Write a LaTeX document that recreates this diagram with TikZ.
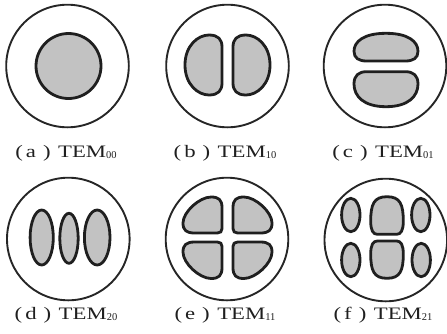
\documentclass[tikz,border=0pt]{standalone}
\usepackage{fontspec}
\setmainfont{Liberation Serif}
\newfontfamily\lblfont[FakeStretch=1.3]{Liberation Serif}
\newfontfamily\subfont{Liberation Serif}

% Half-moon lobe in unit coordinates: flat side at x=1, round side at x=0;
% the argument sets how square the round side is
\newcommand{\dlobe}[1]{(0.65,-1) .. controls (0.9,-1) and (1,-0.85) .. (1,-0.6)
  -- (1,0.6) .. controls (1,0.85) and (0.9,1) .. (0.65,1)
  .. controls (#1,1) and (0,1-#1) .. (0,0)
  .. controls (0,-1+#1) and (#1,-1) .. (0.65,-1) -- cycle}
% Quadrant lobe: inner corner at the origin, outward along +x and +y
\newcommand{\qlobe}{(0.12,0) -- (0.7,0) .. controls (0.92,0) and (1,0.08) .. (1,0.28)
  .. controls (1,0.58) and (0.58,1) .. (0.28,1)
  .. controls (0.08,1) and (0,0.92) .. (0,0.7)
  -- (0,0.12) .. controls (0,0.04) and (0.04,0) .. (0.12,0) -- cycle}
\newcommand{\temlabel}[2]{(\kern3pt#1\kern7pt)\kern7.5pt TEM%
  {\subfont\fontsize{10.5}{12}\selectfont\raisebox{-1pt}{#2}}}

\begin{document}
\begin{tikzpicture}[
  x=1pt,
  y=-1pt,
  line cap=round,
  line join=round,
  ring/.style={draw=black!85,line width=1.9pt},
  lobe/.style={draw=black!88,fill=black!24,line width=2.8pt},
  caption/.style={font=\lblfont\fontsize{17.5}{20}\selectfont,
    text=black!88,anchor=base,inner sep=0pt}
]
  \useasboundingbox (0,0) rectangle (447,333);

  % Centres of the six mirror apertures
  \coordinate (ca) at (67.5,66);
  \coordinate (cb) at (227.5,66);
  \coordinate (cc) at (385,66);
  \coordinate (cd) at (68.3,239);
  \coordinate (ce) at (227,239);
  \coordinate (cf) at (385.8,240);

  % Aperture rims
  \foreach \c in {ca,cb,cc,cd,ce,cf} {
    \draw[ring] (\c) circle[radius=61.3pt];
  }

  % (a) fundamental spot
  \draw[lobe] (68.5,66) circle[radius=32.5pt];

  % (b) two lobes side by side
  \draw[lobe,shift={(185,65)},xscale=37,yscale=30] \dlobe{0.35};
  \draw[lobe,shift={(270,65)},xscale=-37,yscale=30] \dlobe{0.35};

  % (c) two lobes one above the other
  \draw[lobe,shift={(386,33.3)},rotate=-90,xscale=27.7,yscale=32] \dlobe{0.3};
  \draw[lobe,shift={(386,106.7)},rotate=90,xscale=35,yscale=32] \dlobe{0.3};

  % (d) three vertical ellipses
  \draw[lobe] (41.7,237.5) ellipse[x radius=11.6pt,y radius=27.5pt];
  \draw[lobe] (69,238.3) ellipse[x radius=9.2pt,y radius=25pt];
  \draw[lobe] (97.2,237.5) ellipse[x radius=12.8pt,y radius=27.5pt];

  % (e) four quadrant lobes, given by inner corner and outward size
  \foreach \ix/\iy/\sx/\sy in {222/233/-39/-36, 233/233/39/-36,
                               222/242/-39/36.5, 233/242/39/36.5} {
    \draw[lobe,shift={(\ix,\iy)},xscale=\sx,yscale=\sy] \qlobe;
  }

  % (f) side ellipses and two central lobes
  \foreach \ex/\ey in {350.8/215, 420.8/215, 350.8/260, 421.2/260} {
    \draw[lobe] (\ex,\ey) ellipse[x radius=9.2pt,y radius=16.7pt];
  }
  \draw[lobe,shift={(387,196.7)},rotate=-90,xscale=37.6,yscale=16.3] \dlobe{0.2};
  \draw[lobe,shift={(387,278.3)},rotate=90,xscale=37.3,yscale=16.3] \dlobe{0.2};

  % Captions
  \node[caption] (capa) at (66,157) {\temlabel{a}{00}};
  \node[caption] (capb) at (225,157) {\temlabel{b}{10}};
  \node[caption] (capc) at (383,157) {\temlabel{c}{01}};
  \node[caption] (capd) at (66,319.5) {\temlabel{d}{20}};
  \node[caption] (cape) at (225,319.5) {\temlabel{e}{11}};
  \node[caption] (capf) at (383,319.5) {\temlabel{f}{21}};
\end{tikzpicture}
\end{document}
